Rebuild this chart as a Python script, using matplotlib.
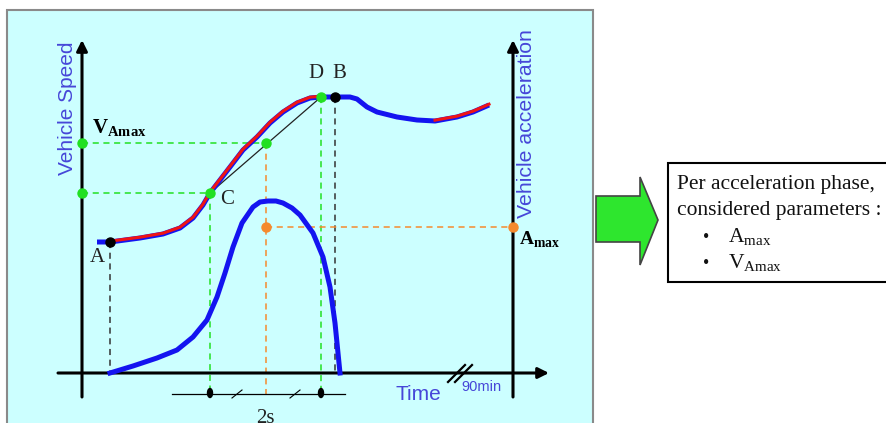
import numpy as np
import matplotlib.pyplot as plt
from matplotlib.patches import Rectangle, Polygon, Ellipse

plt.rcParams['mathtext.fontset'] = 'custom'
plt.rcParams['mathtext.rm'] = 'Liberation Serif'
plt.rcParams['mathtext.bf'] = 'Liberation Serif:bold'

SERIF = 'Liberation Serif'
SANS = 'Liberation Sans'

# ---- data (diagram coordinates, pixel units) ----
speed_x = [97, 110, 140, 163, 180, 193, 203, 210, 220, 230, 243, 257, 270, 283, 297, 310, 321,
           335, 350, 357, 362, 367, 377, 397, 417, 435, 457, 473, 489]
speed_y = [242, 242, 238, 234, 228, 218, 205, 193, 180, 167, 150, 137, 123, 112, 103, 98, 97,
           97, 97, 99, 103, 107, 112, 117, 120, 121, 117, 112, 105]
red_parts = [(110, 321), (435, 489)]

acc_x = [110, 133, 157, 177, 193, 207, 217, 225, 233, 242, 253, 260, 268, 276, 283, 292, 300,
         313, 323, 330, 335, 340]
acc_y = [373, 366, 358, 350, 337, 320, 297, 273, 247, 223, 207, 202, 201, 201, 203, 208, 215,
         233, 257, 287, 323, 373]

pt_A = (110, 242)
pt_B = (335, 97)
pt_C = (210, 193)
pt_D = (321, 97)
pt_V = (266, 143)
pt_Amax = (266, 227)

x_left_axis = 82
x_right_axis = 513
y_time_axis = 373

box_lines = ['Per acceleration phase,', 'considered parameters :']
box_bullets = ['A$_{\\mathrm{max}}$', 'V$_{\\mathrm{Amax}}$']

BLUE = '#1414f0'
RED = '#f01414'
GREEN = '#22e022'
ORANGE = '#f58a2e'
LABEL_BLUE = '#4646d8'

fig = plt.figure(figsize=(8.86, 4.23), dpi=100)
ax = fig.add_axes([0, 0, 1, 1])
ax.set_xlim(0, 886)
ax.set_ylim(423, 0)
ax.axis('off')

# panel
ax.add_patch(Rectangle((7, 10), 586, 430, facecolor='#ccffff', edgecolor='#8a8a8a', lw=1.5, zorder=0))

# axes with arrows
arr = dict(arrowstyle='-|>', lw=2.2, color='k', mutation_scale=16, shrinkA=0, shrinkB=0)
ax.annotate('', xy=(x_left_axis, 40), xytext=(x_left_axis, 397), arrowprops=arr)
ax.annotate('', xy=(x_right_axis, 40), xytext=(x_right_axis, 397), arrowprops=arr)
ax.annotate('', xy=(549, y_time_axis), xytext=(58, y_time_axis), arrowprops=arr)
ax.plot([448, 465], [382, 365], color='k', lw=1.6)
ax.plot([455, 472], [382, 365], color='k', lw=1.6)

ax.text(68, 108, 'Vehicle Speed', rotation=90, ha='center', va='center',
        color=LABEL_BLUE, fontsize=15, family=SANS)
ax.text(527, 124, 'Vehicle acceleration', rotation=90, ha='center', va='center',
        color=LABEL_BLUE, fontsize=15.3, family=SANS)
ax.text(418, 395, 'Time', ha='center', va='center', color=LABEL_BLUE, fontsize=15, family=SANS)
ax.text(461, 387, '90min', ha='left', va='center', color=LABEL_BLUE, fontsize=10.5, family=SANS)

# dashed guides
gd = dict(lw=1.1, ls=(0, (4, 3)))
ax.plot([x_left_axis, pt_V[0]], [pt_V[1], pt_V[1]], color=GREEN, **gd)
ax.plot([x_left_axis, pt_C[0]], [pt_C[1], pt_C[1]], color=GREEN, **gd)
ax.plot([pt_C[0], pt_C[0]], [pt_C[1], 394], color=GREEN, **gd)
ax.plot([pt_D[0], pt_D[0]], [pt_D[1], 394], color=GREEN, **gd)
ax.plot([pt_A[0], pt_A[0]], [pt_A[1], y_time_axis], color='#333333', **gd)
ax.plot([pt_B[0], pt_B[0]], [pt_B[1], y_time_axis], color='#333333', **gd)
ax.plot([pt_V[0], pt_V[0]], [pt_V[1], 394], color=ORANGE, **gd)
ax.plot([pt_Amax[0], x_right_axis], [pt_Amax[1], pt_Amax[1]], color=ORANGE, **gd)

# tangent line C-D
ax.plot([pt_C[0], pt_D[0]], [pt_C[1], pt_D[1]], color='#222222', lw=0.9, zorder=3)

# speed curve
sx = np.array(speed_x)
sy = np.array(speed_y)
ax.plot(sx, sy, color=BLUE, lw=3.6, solid_capstyle='butt', solid_joinstyle='round', zorder=4)
for a, b in red_parts:
    m = (sx >= a) & (sx <= b)
    ax.plot(sx[m], sy[m] - 0.8, color=RED, lw=2.2, solid_joinstyle='round', zorder=5)

# acceleration curve
ax.plot(acc_x, acc_y, color=BLUE, lw=3.6, solid_joinstyle='round', zorder=4)

# points
ax.plot([x_left_axis, pt_V[0], x_left_axis, pt_C[0], pt_D[0]],
        [pt_V[1], pt_V[1], pt_C[1], pt_C[1], pt_D[1]], 'o', color=GREEN, ms=6.5, zorder=6)
ax.plot([pt_A[0], pt_B[0]], [pt_A[1], pt_B[1]], 'o', color='k', ms=6.5, zorder=6)
ax.plot([pt_Amax[0], x_right_axis], [pt_Amax[1], pt_Amax[1]], 'o', color=ORANGE, ms=6.5, zorder=6)

# point labels
lbl = dict(fontsize=15, family=SERIF, color='#222222')
ax.text(97, 258, 'A', ha='center', va='center', **lbl)
ax.text(227, 199, 'C', ha='center', va='center', **lbl)
ax.text(316, 73, 'D', ha='center', va='center', **lbl)
ax.text(339, 73, 'B', ha='center', va='center', **lbl)
ax.text(92, 128, r'$\mathbf{V}_{\mathbf{Amax}}$', ha='left', va='center', fontsize=15)
ax.text(519, 240, r'$\mathbf{A}_{\mathbf{max}}$', ha='left', va='center', fontsize=14)

# 2s bracket
ax.plot([172, 345], [394, 394], color='k', lw=0.9)
for xe in (pt_C[0], pt_D[0]):
    ax.add_patch(Ellipse((xe, 393), 5, 9, color='k', zorder=6))
for xs in (237, 295):
    ax.plot([xs - 5, xs + 5], [398, 390], color='k', lw=0.8)
ax.text(265, 409, '2s', ha='center', va='top', fontsize=15, family=SERIF, color='#222222')

# green arrow
ax.add_patch(Polygon([(596, 196), (640, 196), (640, 177), (658, 220), (640, 265), (640, 242), (596, 242)],
                     closed=True, facecolor='#2ee62e', edgecolor='#444444', lw=1.2))

# parameter box
ax.add_patch(Rectangle((668, 163), 240, 119, facecolor='white', edgecolor='k', lw=1.5, clip_on=True))
for i, s in enumerate(box_lines):
    ax.text(677, 185 + 26 * i, s, ha='left', va='center', fontsize=15.5, family=SERIF, color='#111111')
for i, s in enumerate(box_bullets):
    ax.text(706, 237 + 26 * i, '\u2022', ha='center', va='center', fontsize=13, family=SERIF, color='#111111')
    ax.text(728, 237 + 26 * i, s, ha='left', va='center', fontsize=15.5, family=SERIF, color='#111111')

fig.savefig('out.png', dpi=100)
